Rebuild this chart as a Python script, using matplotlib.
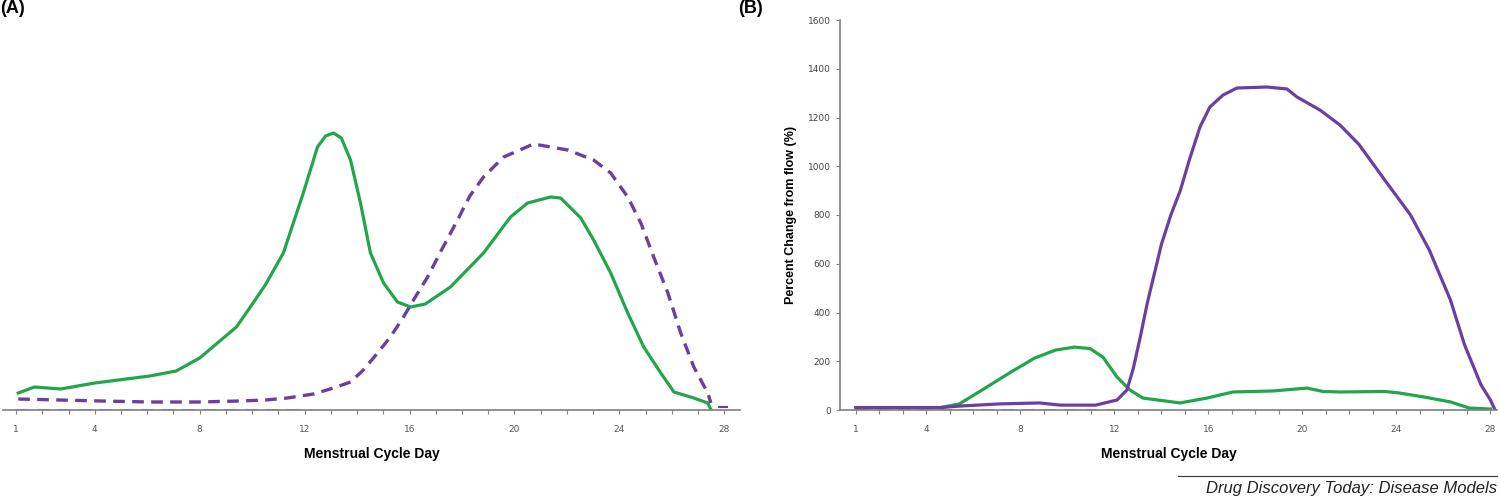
import numpy as np
import matplotlib.pyplot as plt
from matplotlib.ticker import MultipleLocator, FixedLocator

# ---- data ----
# panel A, arbitrary units
a_green_day = [1.08, 1.7, 2.7, 4.0, 6.1, 7.1, 8.0, 9.4, 9.93, 10.5, 11.19, 11.95, 12.49,
               12.8, 13.1, 13.4, 13.75, 14.13, 14.51, 15.01, 15.54, 16.04, 16.6, 17.56,
               18.82, 19.85, 20.5, 21.38, 21.76, 22.53, 23.02, 23.67, 24.32, 24.93,
               25.58, 26.08, 26.84, 27.37, 27.5]
a_green_val = [17, 23, 21, 27, 34, 39, 52, 83, 103, 125, 157, 217, 263,
               274, 277, 272, 250, 207, 157, 127, 108, 103, 106, 123,
               157, 193, 207, 213, 212, 192, 170, 137, 97, 63,
               37, 18, 12, 7, 0]
a_purple_day = [1.08, 4.2, 6.1, 8.0, 9.5, 10.5, 11.34, 12.34, 13.1, 13.75, 14.24, 14.78,
                15.27, 15.77, 16.15, 16.69, 17.18, 17.83, 18.3, 18.82, 19.59, 20.73,
                22.03, 23.02, 23.67, 24.32, 24.82, 25.31, 25.85, 26.34, 26.84, 27.37,
                27.49]
a_purple_val = [11, 9, 8, 8, 9, 10, 12, 16, 22, 28, 40, 57,
                73, 93, 110, 133, 158, 190, 214, 233, 253, 266,
                260, 250, 237, 213, 187, 153, 117, 77, 43, 17,
                7]
a_tail_day = [27.8, 28.1]
a_tail_val = [3, 3]
baseline_day = [1, 12]
baseline_val = [0, 0]

# panel B, percent change from flow
b_purple_day = [1.0, 4.6, 5.4, 7.1, 8.8, 9.7, 11.2, 12.11, 12.53, 12.8, 13.1, 13.4,
                13.7, 14.0, 14.4, 14.8, 15.2, 15.64, 16.06, 16.62, 17.21, 18.49,
                19.34, 19.77, 20.74, 21.6, 22.4, 23.5, 24.6, 25.4, 26.3, 26.9, 27.6,
                28.0, 28.2]
b_purple_val = [10, 10, 16, 25, 29, 20, 20, 41, 82, 170, 300, 440,
                560, 680, 800, 900, 1030, 1161, 1243, 1292, 1321, 1325,
                1317, 1284, 1231, 1169, 1090, 944, 800, 656, 451, 267, 103,
                41, 0]
b_green_day = [1.0, 4.6, 5.4, 6.5, 7.6, 8.6, 9.5, 10.3, 10.96, 11.51, 12.11, 12.66,
               13.21, 14.79, 15.94, 17.04, 18.74, 20.19, 20.87, 21.6, 23.5, 24.1,
               25.2, 26.3, 27.1, 28.0]
b_green_val = [10, 10, 25, 90, 156, 213, 246, 258, 252, 217, 135, 82,
               49, 29, 49, 74, 78, 90, 76, 74, 76, 70,
               53, 33, 8, 4]

day_labels = [1, 4, 8, 12, 16, 20, 24, 28]
b_yticks = [0, 200, 400, 600, 800, 1000, 1200, 1400, 1600]

GREEN = "#21a64b"
PURPLE = "#6a3fa3"
AXIS = "#7f7f7f"

fig = plt.figure(figsize=(15, 4.99), dpi=100)
W, H = 1500, 499


def px_axes(x0, y0, x1, y1):
    return fig.add_axes([x0 / W, 1 - y1 / H, (x1 - x0) / W, (y1 - y0) / H])


def style_x(ax):
    for s in ("top", "right"):
        ax.spines[s].set_visible(False)
    ax.spines["bottom"].set_color(AXIS)
    ax.spines["bottom"].set_linewidth(1.2)
    ax.xaxis.set_major_locator(FixedLocator(day_labels))
    ax.xaxis.set_minor_locator(MultipleLocator(1))
    ax.tick_params(axis="x", which="both", direction="out", length=3, width=0.8,
                   colors=AXIS, labelsize=6.5, labelcolor="#555555", pad=8)
    ax.set_xlabel("Menstrual Cycle Day", fontsize=10, fontweight="bold",
                  family="Liberation Sans", labelpad=9)


# ---- panel A ----
axA = px_axes(3, 20, 740, 410)
axA.plot(baseline_day, baseline_val, color="#999999", lw=1.5, ls=(0, (6, 4)))
axA.plot(a_green_day, a_green_val, color=GREEN, lw=2.3)
axA.plot(a_purple_day, a_purple_val, color=PURPLE, lw=2.4, ls=(0, (3.5, 2.2)))
axA.plot(a_tail_day, a_tail_val, color=PURPLE, lw=1.5)
axA.set_xlim(0.5, 28.6)
axA.set_ylim(0, 390)
axA.spines["left"].set_visible(False)
axA.set_yticks([])
style_x(axA)
fig.text(0 / W, 1 - 0 / H, "(A)", fontsize=13, fontweight="bold",
         family="Liberation Sans", ha="left", va="top")

# ---- panel B ----
axB = px_axes(840, 20, 1497, 410)
axB.plot(baseline_day, baseline_val, color="#999999", lw=1.5, ls=(0, (6, 4)))
axB.plot(b_green_day, b_green_val, color=GREEN, lw=2.3)
axB.plot(b_purple_day, b_purple_val, color=PURPLE, lw=2.3)
axB.set_xlim(0.32, 28.28)
axB.set_ylim(0, 1600)
axB.set_yticks(b_yticks)
axB.spines["left"].set_color(AXIS)
axB.spines["left"].set_linewidth(1.2)
axB.tick_params(axis="y", direction="out", length=3, colors=AXIS,
                labelsize=6.5, labelcolor="#444444")
axB.set_ylabel("Percent Change from flow (%)", fontsize=9, fontweight="bold",
               family="Liberation Sans", labelpad=8)
style_x(axB)
fig.text(738 / W, 1 - 0 / H, "(B)", fontsize=13, fontweight="bold",
         family="Liberation Sans", ha="left", va="top")

# ---- source line ----
fig.add_artist(plt.Line2D([1178 / W, 1497 / W], [1 - 476 / H, 1 - 476 / H],
                          color="#333333", lw=0.8))
fig.text(1497 / W, 1 - 489 / H, "Drug Discovery Today: Disease Models",
         fontsize=12, style="italic", family="Liberation Sans",
         ha="right", va="center", color="#222222")

fig.savefig("out.png", dpi=100)
